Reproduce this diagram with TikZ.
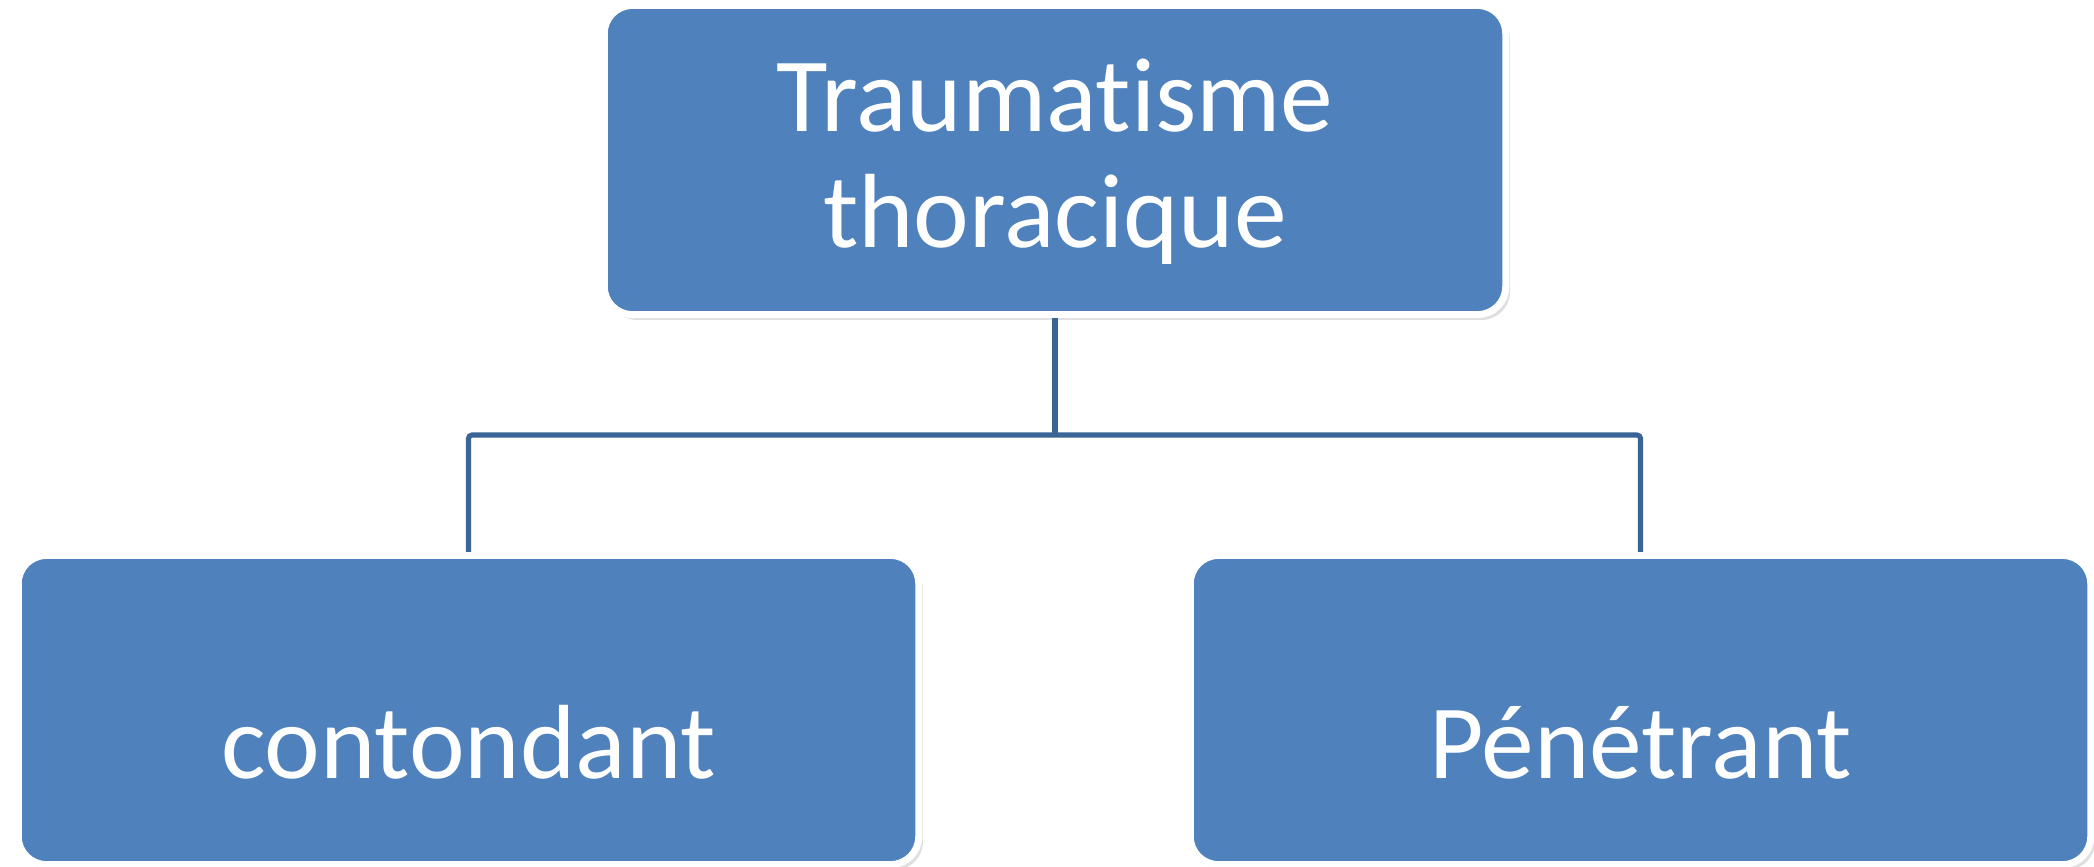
\documentclass[tikz,border=0pt]{standalone}
\usepackage{fontspec}
\setmainfont{Carlito}[Ligatures={NoCommon}]
\usepackage{tikz}
\usetikzlibrary{shadows}
\definecolor{boxfill}{HTML}{4F81BD}
\definecolor{wire}{HTML}{3A6396}
\tikzset{
  box/.style={draw=white, line width=2pt, fill=boxfill, rounded corners=8pt,
    text=white, font=\fontsize{30}{33}\selectfont, align=center, inner sep=0pt,
    drop shadow={opacity=0.25, shadow xshift=1.2pt, shadow yshift=-1.5pt}},
  leaf/.style={box, text height=39pt, text depth=0pt},
  link/.style={draw=wire, line width=1.45pt, rounded corners=1pt},
}
\begin{document}
\begin{tikzpicture}[x=0.01cm, y=-0.01cm]
\useasboundingbox (0,0) rectangle (2094,866);

\coordinate (T) at (1055,162);
\coordinate (L) at (468.5,710);
\coordinate (R) at (1640.5,710);
\coordinate (split) at (1055,435);

\node[box, minimum width=9.01cm, minimum height=3.09cm] (top) at (1055,160) {};
\node[text=white, font=\fontsize{30}{33}\selectfont, align=center, inner sep=0pt] (toplabel) at (T) {Traumatisme\\thoracique};
\node[leaf, minimum width=9.00cm, minimum height=3.09cm] (blunt) at (L) {contondant};
\node[leaf, minimum width=9.00cm, minimum height=3.09cm] (pen) at (R) {Pénétrant};

% tree connectors
\draw[link] (top.south) -- (split);
\draw[link] (blunt.north) |- (split) -| (pen.north);
\end{tikzpicture}
\end{document}
